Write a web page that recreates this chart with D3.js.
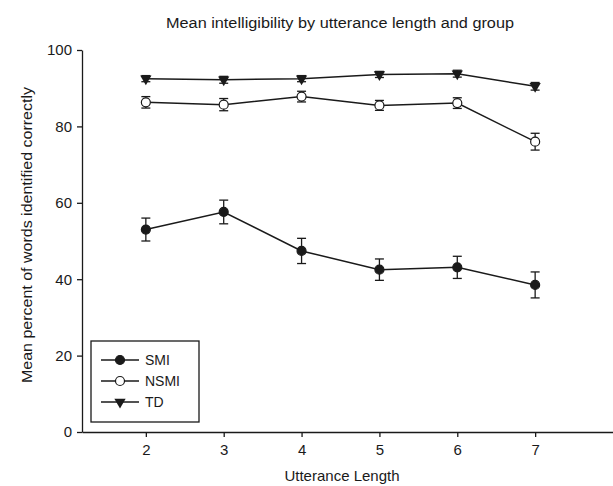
<!DOCTYPE html>
<html>
<head>
<meta charset="utf-8">
<script src="https://cdn.jsdelivr.net/npm/d3@7"></script>
<style>
  body { margin: 0; background: #fff; }
  svg { display: block; font-family: "Liberation Sans", Arial, sans-serif; }
</style>
</head>
<body>
<div id="chart"></div>
<script>
// utterance lengths on the x axis
const lengths = [2, 3, 4, 5, 6, 7];

// group means and standard errors (percent words identified)
const smiMean = [53.0, 57.6, 47.4, 42.5, 43.1, 38.5];
const smiErr  = [3.0, 3.1, 3.3, 2.8, 2.9, 3.4];
const nsmiMean = [86.3, 85.7, 87.8, 85.5, 86.1, 76.0];
const nsmiErr  = [1.5, 1.6, 1.4, 1.3, 1.4, 2.2];
const tdMean = [92.5, 92.2, 92.5, 93.6, 93.8, 90.5];
const tdErr  = [0.8, 0.9, 0.8, 0.8, 0.9, 1.0];

const yTicks = [0, 20, 40, 60, 80, 100];
const groupNames = ["SMI", "NSMI", "TD"];

const width = 613, height = 486;
const ink = "#1a1a1a";

const svg = d3.select("#chart").append("svg")
    .attr("width", width)
    .attr("height", height);

const x = d3.scaleLinear().domain([1.18, 8]).range([82, 613]);
const y = d3.scaleLinear().domain([0, 100]).range([432, 50]);

// axes
svg.append("g")
    .attr("transform", `translate(82,0)`)
    .call(d3.axisLeft(y).tickValues(yTicks).tickFormat(d3.format("d")).tickSize(5).tickSizeOuter(0).tickPadding(5))
    .call(g => g.selectAll("text").style("font-size", "15px").attr("fill", ink))
    .call(g => g.selectAll("line,path").attr("stroke", ink).attr("stroke-width", 1.3));

svg.append("g")
    .attr("transform", `translate(0,432)`)
    .call(d3.axisBottom(x).tickValues(lengths).tickFormat(d3.format("d")).tickSize(5).tickSizeOuter(0).tickPadding(7))
    .call(g => g.selectAll("text").style("font-size", "15px").attr("fill", ink))
    .call(g => g.selectAll("line,path").attr("stroke", ink).attr("stroke-width", 1.3));

// titles
svg.append("text")
    .attr("x", 166).attr("y", 28)
    .attr("textLength", 348).attr("lengthAdjust", "spacingAndGlyphs")
    .style("font-size", "14px").attr("fill", ink)
    .text("Mean intelligibility by utterance length and group");

svg.append("text")
    .attr("transform", "translate(32,235) rotate(-90)")
    .attr("text-anchor", "middle")
    .attr("textLength", 296).attr("lengthAdjust", "spacingAndGlyphs")
    .style("font-size", "15px").attr("fill", ink)
    .text("Mean percent of words identified correctly");

svg.append("text")
    .attr("x", 342).attr("y", 481)
    .attr("text-anchor", "middle")
    .style("font-size", "15px").attr("fill", ink)
    .text("Utterance Length");

const groups = [
    { name: "SMI", mean: smiMean, err: smiErr, shape: "filled" },
    { name: "NSMI", mean: nsmiMean, err: nsmiErr, shape: "open" },
    { name: "TD", mean: tdMean, err: tdErr, shape: "triangle" }
];

const line = d3.line()
    .x((d, i) => x(lengths[i]))
    .y(d => y(d));

const triangle = d3.symbol().type(d3.symbolTriangle).size(55);

function drawMarker(sel, shape) {
    if (shape === "triangle") {
        sel.append("path")
            .attr("d", triangle)
            .attr("transform", "rotate(180)")
            .attr("fill", ink);
    } else {
        sel.append("circle")
            .attr("r", 4.5)
            .attr("fill", shape === "filled" ? ink : "#fff")
            .attr("stroke", ink)
            .attr("stroke-width", 1.2);
    }
}

groups.forEach(grp => {
    const g = svg.append("g");

    g.append("path")
        .datum(grp.mean)
        .attr("d", line)
        .attr("fill", "none")
        .attr("stroke", ink)
        .attr("stroke-width", 1.5);

    const bars = g.selectAll(".err")
        .data(grp.mean)
        .enter().append("g")
        .attr("stroke", ink)
        .attr("stroke-width", 1.3);

    bars.append("line")
        .attr("x1", (d, i) => x(lengths[i])).attr("x2", (d, i) => x(lengths[i]))
        .attr("y1", (d, i) => y(d + grp.err[i])).attr("y2", (d, i) => y(d - grp.err[i]));
    bars.append("line")
        .attr("x1", (d, i) => x(lengths[i]) - 4.5).attr("x2", (d, i) => x(lengths[i]) + 4.5)
        .attr("y1", (d, i) => y(d + grp.err[i])).attr("y2", (d, i) => y(d + grp.err[i]));
    bars.append("line")
        .attr("x1", (d, i) => x(lengths[i]) - 4.5).attr("x2", (d, i) => x(lengths[i]) + 4.5)
        .attr("y1", (d, i) => y(d - grp.err[i])).attr("y2", (d, i) => y(d - grp.err[i]));

    g.selectAll(".pt")
        .data(grp.mean)
        .enter().append("g")
        .attr("transform", (d, i) => `translate(${x(lengths[i])},${y(d)})`)
        .each(function () { drawMarker(d3.select(this), grp.shape); });
});

// legend
const legend = svg.append("g");
legend.append("rect")
    .attr("x", 91).attr("y", 341)
    .attr("width", 108).attr("height", 81)
    .attr("fill", "#fff")
    .attr("stroke", ink).attr("stroke-width", 1.3);

groups.forEach((grp, i) => {
    const ly = 360 + i * 21;
    legend.append("line")
        .attr("x1", 101).attr("x2", 139)
        .attr("y1", ly).attr("y2", ly)
        .attr("stroke", ink).attr("stroke-width", 1.5);
    const m = legend.append("g").attr("transform", `translate(120,${ly})`);
    drawMarker(m, grp.shape);
    legend.append("text")
        .attr("x", 145).attr("y", ly + 5)
        .style("font-size", "14px").attr("fill", ink)
        .text(groupNames[i]);
});
</script>
</body>
</html>
